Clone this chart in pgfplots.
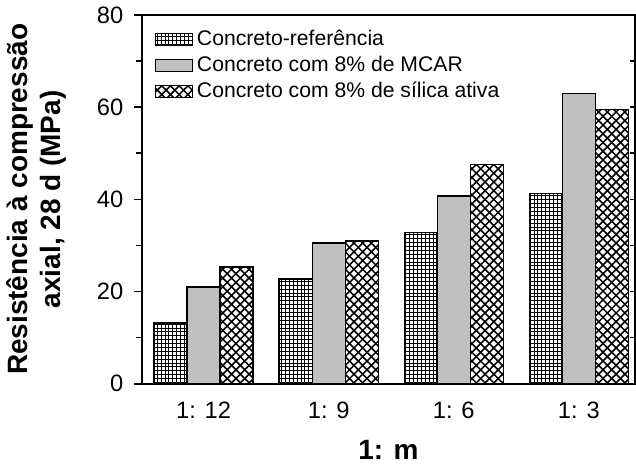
\documentclass[border=0pt]{standalone}
\usepackage{pgfplots}
\pgfplotsset{compat=1.18}
\usepackage{fontspec}
\setmainfont{Liberation Sans}
\usetikzlibrary{patterns}

% denser/larger patterns than the built-in ones
\pgfdeclarepatternformonly{mygrid}{\pgfqpoint{-0.5pt}{-0.5pt}}{\pgfqpoint{2.5pt}{2.5pt}}{\pgfqpoint{2pt}{2pt}}{
  \pgfsetlinewidth{0.5pt}
  \pgfpathmoveto{\pgfqpoint{0pt}{1pt}}\pgfpathlineto{\pgfqpoint{2pt}{1pt}}
  \pgfpathmoveto{\pgfqpoint{1pt}{0pt}}\pgfpathlineto{\pgfqpoint{1pt}{2pt}}
  \pgfusepath{stroke}}
\pgfdeclarepatternformonly{mycross}{\pgfqpoint{-1pt}{-1pt}}{\pgfqpoint{5.5pt}{5.5pt}}{\pgfqpoint{4.5pt}{4.5pt}}{
  \pgfsetlinewidth{0.8pt}
  \pgfpathmoveto{\pgfqpoint{0pt}{0pt}}\pgfpathlineto{\pgfqpoint{4.51pt}{4.51pt}}
  \pgfpathmoveto{\pgfqpoint{0pt}{4.5pt}}\pgfpathlineto{\pgfqpoint{4.51pt}{-0.01pt}}
  \pgfusepath{stroke}}

\definecolor{bargray}{HTML}{C0C0C0}

\begin{document}
\begin{tikzpicture}
\begin{axis}[
    scale only axis,
    width=254pt, height=190pt,
    ybar=0pt, bar width=17pt,
    xmin=-0.494, xmax=3.45,
    ymin=0, ymax=80,
    xtick={0,1,2,3},
    xticklabels={1: 12, 1: 9, 1: 6, 1: 3},
    major x tick style={draw=none},
    ytick={0,20,40,60,80},
    minor ytick={10,30,50,70},
    ytick pos=left,
    tick align=outside,
    major tick length=4pt, minor tick length=3pt,
    axis line style={line width=0.9pt},
    every tick/.style={black, line width=0.8pt},
    /pgf/number format/assume math mode=true,
    tick label style={font=\fontsize{12.2}{14}\selectfont},
    xticklabel style={yshift=-2pt},
    yticklabel style={xshift=-2pt},
    xlabel={\textbf{1: m}},
    xlabel style={font=\fontsize{14.4}{17}\selectfont, yshift=-4pt},
    ylabel={\textbf{Resistência à compressão}\\\textbf{axial, 28 d (MPa)}},
    ylabel style={font=\fontsize{14.4}{17}\selectfont, align=center,
        at={(ticklabel cs:0.5,9pt)}},
    legend style={draw=none, fill=none, at={(0.022,0.975)}, anchor=north west,
        font=\fontsize{10.9}{12}\selectfont, row sep=0pt, inner sep=1pt},
    legend cell align=left,
    legend image code/.code={\draw[#1, line width=0.6pt] (0pt,-3pt) rectangle (19pt,3pt);},
]
\addplot[draw=black, line width=0.7pt, pattern=mygrid] coordinates {(0,13.2) (1,22.7) (2,32.8) (3,41.2)};
\addplot[draw=black, line width=0.7pt, fill=bargray] coordinates {(0,21.0) (1,30.5) (2,40.7) (3,63.0)};
\addplot[draw=black, line width=0.7pt, pattern=mycross] coordinates {(0,25.3) (1,31.0) (2,47.5) (3,59.5)};
\legend{Concreto-referência, Concreto com 8\% de MCAR, Concreto com 8\% de sílica ativa}
\end{axis}
\begin{axis}[
    scale only axis,
    width=254pt, height=190pt,
    xmin=-0.494, xmax=3.45,
    ymin=0, ymax=80,
    hide x axis,
    axis y line*=right,
    axis line style={line width=0.9pt, -},
    ytick={0,10,...,80},
    yticklabels={},
    yticklabel style={overlay},
    tick align=inside,
    major tick length=2.5pt,
    every tick/.style={black, line width=0.8pt},
]
\end{axis}
\end{tikzpicture}
\end{document}
